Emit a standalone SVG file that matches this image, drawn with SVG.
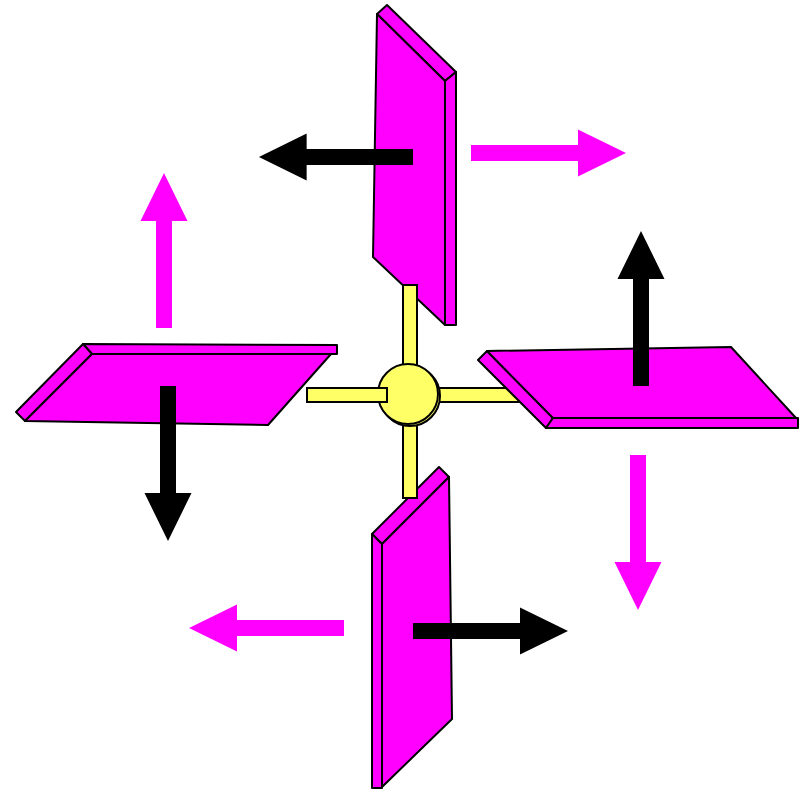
<svg xmlns="http://www.w3.org/2000/svg" width="801" height="791" viewBox="0 0 801 791">
  <style>
    .blade { fill: #ff00ff; stroke: #000; stroke-width: 2; stroke-linejoin: round; }
    .hub { fill: #ffff66; stroke: #000; stroke-width: 2; }
    .push { fill: #000; }
    .flow { fill: #ff00ff; }
  </style>
  <defs>
    <!-- arrow pointing right, origin at the shaft start, centred on y=0 -->
    <path id="arrow" d="M0,-8 L107,-8 L107,-23.5 L155,0 L107,23.5 L107,8 L0,8 Z"/>
  </defs>
  <rect width="801" height="791" fill="#fff"/>

  <!-- spoke running under the right blade -->
  <rect class="hub" x="430" y="388" width="96" height="14"/>

  <g id="blade-top">
    <polygon class="blade" points="377,14 387,5 456,72 445,81"/>
    <polygon class="blade" points="445,81 456,72 456,325 445,325"/>
    <polygon class="blade" points="377,14 445,81 445,325 373,257"/>
  </g>
  <g id="blade-left">
    <polygon class="blade" points="83,344 337,345 337,354 92,354"/>
    <polygon class="blade" points="16,412 83,344 92,354 25,421"/>
    <polygon class="blade" points="92,354 331,354 268,425 25,421"/>
  </g>
  <g id="blade-right">
    <polygon class="blade" points="478,360 487,351 553,418 546,428"/>
    <polygon class="blade" points="553,418 798,418 798,428 546,428"/>
    <polygon class="blade" points="487,351 731,347 796,418 553,418"/>
  </g>
  <g id="blade-bottom">
    <polygon class="blade" points="372,534 439,467 449,477 382,544"/>
    <polygon class="blade" points="372,534 382,544 382,788 372,788"/>
    <polygon class="blade" points="382,544 449,477 452,719 382,787"/>
  </g>

  <g id="hub">
    <rect class="hub" x="403" y="285" width="14" height="100"/>
    <rect class="hub" x="403" y="405" width="14" height="93"/>
    <circle class="hub" cx="410" cy="396" r="30"/>
    <circle class="hub" cx="408" cy="394" r="30"/>
    <rect class="hub" x="307" y="388" width="80" height="14"/>
  </g>

  <g id="arrows">
    <use href="#arrow" class="push" transform="translate(413,157) rotate(180) scale(0.994,1)"/>
    <use href="#arrow" class="flow" transform="translate(471,153)"/>
    <use href="#arrow" class="flow" transform="translate(164,328) rotate(-90)"/>
    <use href="#arrow" class="push" transform="translate(641,386) rotate(-90)"/>
    <use href="#arrow" class="push" transform="translate(168,386) rotate(90)"/>
    <use href="#arrow" class="flow" transform="translate(638,455) rotate(90)"/>
    <use href="#arrow" class="flow" transform="translate(344,628) rotate(180)"/>
    <use href="#arrow" class="push" transform="translate(413,631)"/>
  </g>
</svg>
